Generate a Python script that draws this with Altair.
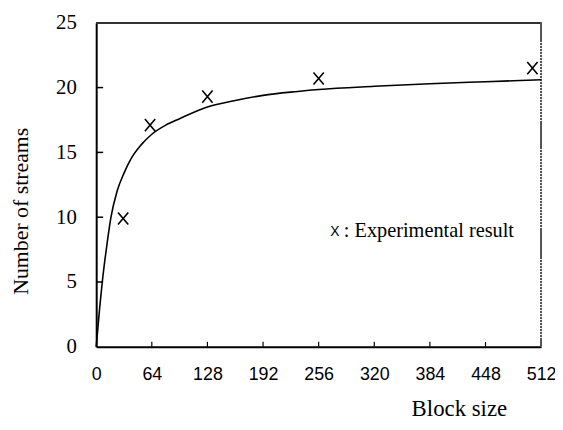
import altair as alt
import pandas as pd

# Fitted (model) curve
curve_x = [0, 2, 4, 7, 10, 13, 17, 24, 32, 40, 52, 64, 80, 96, 128, 160, 192, 232, 256, 320, 384, 448, 512]
curve_y = [0, 1.5, 3.0, 5.0, 6.7, 8.2, 10.0, 12.0, 13.4, 14.5, 15.6, 16.4, 17.1, 17.6, 18.5, 19.0, 19.4, 19.7, 19.85, 20.1, 20.3, 20.45, 20.6]

# Experimental results (x markers)
exp_x = [31, 62, 128, 256, 502]
exp_y = [9.9, 17.1, 19.3, 20.7, 21.5]

x_ticks = [0, 64, 128, 192, 256, 320, 384, 448, 512]
y_ticks = [0, 5, 10, 15, 20, 25]
x_inner_ticks = [64, 128, 192, 256, 320, 384, 448]
y_inner_ticks = [5, 10, 15, 20]

legend_marker = "X"
legend_text = ": Experimental result"
x_title = "Block size"
y_title = "Number of streams"

W, H = 449, 327

curve_df = pd.DataFrame({"x": curve_x, "y": curve_y})
exp_df = pd.DataFrame({"x": exp_x, "y": exp_y})
xt_df = pd.DataFrame({"x": x_inner_ticks})
yt_df = pd.DataFrame({"y": y_inner_ticks})
leg_df = pd.DataFrame({"x": [274.8], "y": [8.87], "x2": [284.9], "y2": [8.5]})

xscale = alt.Scale(domain=[0, 512], nice=False, zero=False)
yscale = alt.Scale(domain=[0, 25], nice=False)

SERIF = "Liberation Serif"
SANS = "Liberation Sans"

x_axis = alt.Axis(
    values=x_ticks, title=x_title, grid=False, ticks=False, tickSize=0,
    labelFont=SANS, labelFontSize=18, labelColor="black", labelPadding=28,
    labelBaseline="middle", labelFlush=False, labelOverlap=False,
    domainColor="black", domainWidth=2,
    titleFont=SERIF, titleFontSize=23, titleFontWeight="normal", titleColor="black",
    titleX=366, titleY=69, titleAlign="center", titleBaseline="alphabetic",
)
y_axis = alt.Axis(
    values=y_ticks, title=y_title, grid=False, ticks=False, tickSize=0,
    labelFont=SERIF, labelFontSize=21, labelColor="black", labelPadding=20,
    labelBaseline="middle", labelFlush=False, labelOverlap=False,
    domainColor="black", domainWidth=2,
    titleFont=SERIF, titleFontSize=22, titleFontWeight="normal", titleColor="black",
    titleX=-69, titleY=274, titleAlign="left", titleBaseline="alphabetic", titleAngle=270,
)

curve = alt.Chart(curve_df).mark_line(
    color="black", strokeWidth=1.6, interpolate="monotone"
).encode(
    x=alt.X("x:Q", scale=xscale, axis=x_axis),
    y=alt.Y("y:Q", scale=yscale, axis=y_axis),
)

points = alt.Chart(exp_df).mark_point(
    shape="M-0.85,-1L0.85,1M-0.85,1L0.85,-1", size=150,
    filled=False, stroke="black", strokeWidth=1.6, opacity=1
).encode(
    x=alt.X("x:Q", scale=xscale),
    y=alt.Y("y:Q", scale=yscale),
)

xticks = alt.Chart(xt_df).mark_rule(color="black", strokeWidth=1.2).encode(
    x=alt.X("x:Q", scale=xscale), y=alt.value(H), y2=alt.value(H - 5)
)
yticks = alt.Chart(yt_df).mark_rule(color="black", strokeWidth=1.5).encode(
    y=alt.Y("y:Q", scale=yscale), x=alt.value(0), x2=alt.value(7)
)

top_line = alt.Chart(curve_df).mark_rule(color="#333333", strokeWidth=1.3).encode(
    x=alt.value(0), x2=alt.value(W), y=alt.value(0)
)
right_line = alt.Chart(curve_df).mark_rule(
    color="#555555", strokeWidth=1.3, strokeDash=[1.5, 1.5]
).encode(
    x=alt.value(W), y=alt.value(0), y2=alt.value(H)
)

leg_mark = alt.Chart(leg_df).mark_text(
    text=legend_marker, font=SANS, fontSize=14, color="black",
    align="center", baseline="middle"
).encode(
    x=alt.X("x:Q", scale=xscale), y=alt.Y("y:Q", scale=yscale)
)
leg_txt = alt.Chart(leg_df).mark_text(
    text=legend_text, font=SERIF, fontSize=20.5, color="black",
    align="left", baseline="alphabetic"
).encode(
    x=alt.X("x2:Q", scale=xscale), y=alt.Y("y2:Q", scale=yscale)
)

chart = alt.layer(
    top_line, right_line, xticks, yticks, curve, points, leg_mark, leg_txt
).properties(
    width=W, height=H,
    autosize=alt.AutoSizeParams(type="none"),
    padding={"left": 89, "top": 13, "right": 14, "bottom": 78},
).configure_view(stroke=None).configure(background="white")

chart.save("out.html", embed_options={"renderer": "svg", "actions": False})
